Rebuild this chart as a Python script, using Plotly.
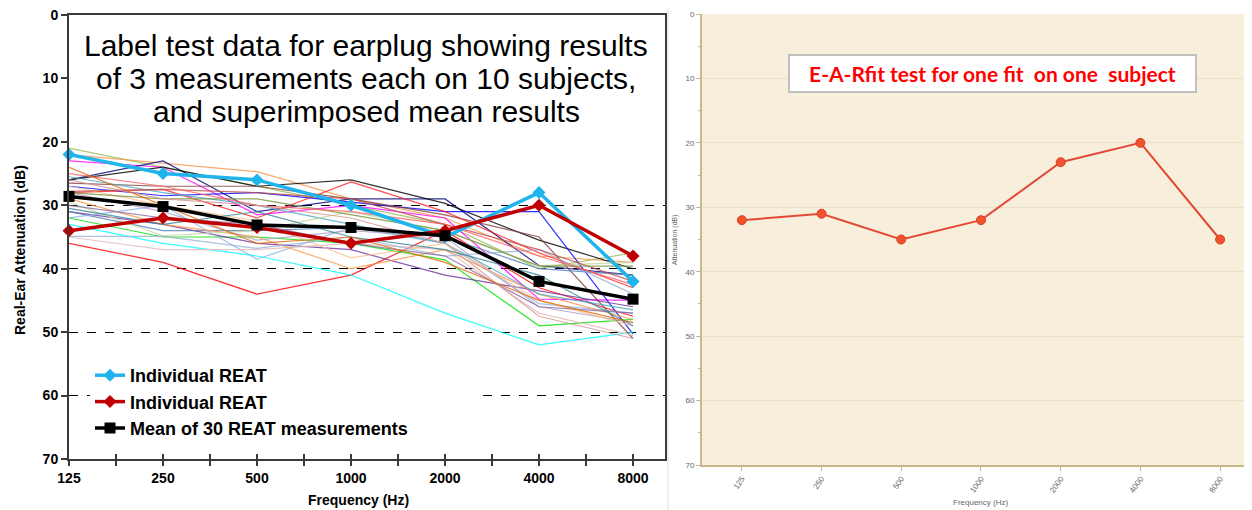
import plotly.graph_objects as go

# ---------------- data ----------------
freqs = ['125', '250', '500', '1000', '2000', '4000', '8000']
y_ticks = [0, 10, 20, 30, 40, 50, 60, 70]
dashed_levels = [30, 40, 50, 60]

# 28 individual thin REAT traces (dB attenuation at each frequency)
indiv_1 = [21, 24, 27, 30, 33, 40, 37.5]
indiv_2 = [22, 23.3, 24.7, 29, 32, 38, 39]
indiv_3 = [23, 24, 31.5, 30, 32, 44.8, 45]
indiv_4 = [26, 23, 31, 29, 29, 39.5, 41]
indiv_5 = [26, 24, 27, 26, 29.7, 35.5, 40]
indiv_6 = [27, 28.5, 28, 29.5, 31, 31, 50.3]
indiv_7 = [36, 39, 44, 41, 34, 43, 47.5]
indiv_8 = [33, 36, 38, 41, 47, 52, 50]
indiv_9 = [32, 35, 35, 36, 38.6, 49, 48]
indiv_10 = [26.5, 27, 27, 29, 31.5, 35, 51]
indiv_11 = [28, 27.5, 32, 26.3, 31, 37.5, 43]
indiv_12 = [31, 33, 36, 37, 41, 43.5, 46]
indiv_13 = [31, 34, 34, 33.5, 35, 40, 41]
indiv_14 = [32, 30, 38.5, 33.5, 36, 45.5, 47]
indiv_15 = [35, 37, 37, 36, 37, 47, 50.5]
indiv_16 = [29, 33, 35, 40, 37, 44, 48]
indiv_17 = [25.5, 28, 30, 33, 36, 44, 46.5]
indiv_18 = [29.5, 34.8, 34, 31, 34, 39.5, 39]
indiv_19 = [28, 31, 35.5, 34, 35, 46, 48.5]
indiv_20 = [27, 30, 32.5, 38.3, 36, 45, 49]
indiv_21 = [34.9, 34.9, 36.8, 35, 38, 37, 44]
indiv_22 = [27.8, 27.5, 28, 29, 33, 37, 42]
indiv_23 = [28, 29, 29, 31.5, 34, 39.6, 39.6]
indiv_24 = [30, 32, 33, 36, 38, 46, 47]
indiv_25 = [25, 27, 30, 31, 33, 38, 42.5]
indiv_26 = [26, 29, 30, 32, 36, 47.5, 51]
indiv_27 = [30.5, 33, 31, 35, 37, 41, 49]
indiv_28 = [24, 30, 36, 35, 39, 45, 48.5]

individual = [indiv_1, indiv_2, indiv_3, indiv_4, indiv_5, indiv_6, indiv_7,
              indiv_8, indiv_9, indiv_10, indiv_11, indiv_12, indiv_13, indiv_14,
              indiv_15, indiv_16, indiv_17, indiv_18, indiv_19, indiv_20, indiv_21,
              indiv_22, indiv_23, indiv_24, indiv_25, indiv_26, indiv_27, indiv_28]
indiv_colors = ['#9BBB59', '#F79646', '#FF00FF', '#000080', '#000000', '#0000FF',
                '#FF0000', '#00FFFF', '#00E000', '#7F3F3F', '#FF2020', '#7030A0',
                '#4F81BD', '#8EB4E3', '#E6B9B8', '#F79646', '#4BACC6', '#C3D69B',
                '#B3A2C7', '#FAC090', '#95B3D7', '#C0504D', '#76923C', '#8064A2',
                '#FF6060', '#D99694', '#31859C', '#E46C0A']

reat_cyan = [22, 25, 26, 30, 35, 28, 42]
reat_red = [34, 32, 33.5, 36, 34, 30, 38]
mean_reat = [28.6, 30.2, 33.1, 33.5, 34.8, 42, 44.8]

fit_values = [32, 31, 35, 32, 23, 20, 35]

title_lines = ['Label test data for earplug showing results',
               'of 3 measurements each on 10 subjects,',
               'and superimposed mean results']

# ---------------- figure ----------------
# page has an 8px body margin: size the figure to fit, and map page pixels to paper
OFF = 8
W, H = 1252 - OFF, 510 - OFF


def px(x):
    return (x - OFF) / W


def py(y):
    return 1 - (y - OFF) / H


xi = list(range(len(freqs)))
FONT = 'Liberation Sans, Arial, sans-serif'

fig = go.Figure()

for vals, col in zip(individual, indiv_colors):
    fig.add_trace(go.Scatter(x=xi, y=vals, mode='lines', line=dict(color=col, width=1.2),
                             opacity=0.8, showlegend=False, hoverinfo='skip',
                             xaxis='x', yaxis='y'))

fig.add_trace(go.Scatter(x=xi, y=reat_cyan, mode='lines+markers', name='Individual REAT',
                         line=dict(color='#1FB4EC', width=3.5),
                         marker=dict(symbol='diamond', size=10, color='#1FB4EC'),
                         cliponaxis=False, xaxis='x3', yaxis='y3'))
fig.add_trace(go.Scatter(x=xi, y=reat_red, mode='lines+markers', name='Individual REAT',
                         line=dict(color='#C00000', width=3.5),
                         marker=dict(symbol='diamond', size=10, color='#C00000'),
                         cliponaxis=False, xaxis='x3', yaxis='y3'))
fig.add_trace(go.Scatter(x=xi, y=mean_reat, mode='lines+markers',
                         name='Mean of 30 REAT measurements' + '\u00a0' * 13,
                         line=dict(color='#000000', width=3.5),
                         marker=dict(symbol='square', size=11, color='#000000'),
                         cliponaxis=False, xaxis='x3', yaxis='y3'))

# right chart
fig.add_trace(go.Scatter(x=xi, y=fit_values, mode='lines+markers', showlegend=False,
                         line=dict(color='#E34A36', width=2),
                         marker=dict(size=9, color='#F0522E', line=dict(color='#D8401F', width=1)),
                         xaxis='x2', yaxis='y2'))

half_ticks = [i * 0.5 for i in range(2 * len(freqs) - 1)]
half_text = [freqs[int(v)] if v == int(v) else '' for v in half_ticks]

left_dom = [px(69), px(665)]
left_ydom = [py(459), py(15)]
right_dom = [px(702), 1.0]
right_ydom = [py(465), py(14)]

axis_col = '#3a3a3a'
fig.update_layout(
    width=W, height=H, margin=dict(l=0, r=0, t=0, b=0, autoexpand=False),
    paper_bgcolor='white', plot_bgcolor='rgba(0,0,0,0)',
    font=dict(family=FONT, color='black'),
    xaxis=dict(domain=left_dom, range=[0, 6.34], tickvals=half_ticks, ticktext=half_text,
               ticks='outside', ticklen=5, tickwidth=1.5, tickcolor=axis_col,
               showline=True, linecolor=axis_col, linewidth=2, mirror=True,
               showgrid=False, zeroline=False, anchor='y', automargin=False,
               tickfont=dict(size=14, weight='bold', family=FONT)),
    yaxis=dict(domain=left_ydom, range=[70, 0], tickvals=y_ticks,
               ticks='outside', ticklen=6, tickwidth=1.5, tickcolor=axis_col,
               showline=True, linecolor=axis_col, linewidth=2, mirror=True,
               showgrid=False, zeroline=False, anchor='x', automargin=False,
               ticklabeloverflow='allow',
               tickfont=dict(size=14, weight='bold', family=FONT)),
    xaxis3=dict(overlaying='x', anchor='y3', range=[0, 6.34], tickvals=half_ticks,
                showticklabels=False, ticks='inside', ticklen=5, tickwidth=1.5,
                tickcolor=axis_col, showgrid=False, zeroline=False, showline=False,
                automargin=False),
    yaxis3=dict(overlaying='y', anchor='x3', range=[70, 0], tickvals=dashed_levels,
                showticklabels=False, ticks='', showgrid=True, griddash='dash',
                gridcolor='black', gridwidth=1.2, zeroline=False, showline=False,
                automargin=False),
    xaxis2=dict(domain=right_dom, range=[-0.5, 6.4], tickvals=xi, ticktext=freqs,
                tickangle=-55, ticks='outside', ticklen=4, tickcolor='#c8b88a',
                showline=True, linecolor='#c8b88a', linewidth=2, showgrid=False,
                zeroline=False, anchor='y2', automargin=False,
                tickfont=dict(size=8, color='#666666', family=FONT)),
    yaxis2=dict(domain=right_ydom, range=[70, 0], tickvals=y_ticks,
                ticks='outside', ticklen=4, tickcolor='#c8b88a',
                minor=dict(dtick=5, ticks='outside', ticklen=2, tickcolor='#c8b88a'),
                showline=True, linecolor='#c8b88a', linewidth=2,
                showgrid=True, gridcolor='#ebdfc4', gridwidth=1, zeroline=False, anchor='x2',
                automargin=False, ticklabeloverflow='allow',
                tickfont=dict(size=8, color='#666666', family=FONT)),
    legend=dict(x=px(90), y=py(357), xanchor='left', yanchor='top',
                bgcolor='white', borderwidth=0, tracegroupgap=0, itemwidth=30,
                font=dict(size=18, weight='bold', family=FONT, color='black')),
)

# beige plotting background for the right chart
fig.add_shape(type='rect', xref='x2 domain', yref='y2 domain', x0=0, x1=1, y0=0, y1=1,
              fillcolor='#f7eedc', line=dict(width=0), layer='below')
# separator border line of the right screenshot
fig.add_shape(type='line', xref='paper', yref='paper', x0=px(668), x1=px(668), y0=0, y1=1,
              line=dict(color='#dddddd', width=1))

for k, line in enumerate(title_lines):
    fig.add_annotation(xref='paper', yref='paper', x=px(366), y=py(45 + 33 * k),
                       text=line, showarrow=False,
                       font=dict(size=30, family=FONT, color='black'),
                       xanchor='center', yanchor='middle')
fig.add_annotation(xref='paper', yref='paper', x=px(20), y=py(250),
                   text='Real-Ear Attenuation (dB)', textangle=-90, showarrow=False,
                   font=dict(size=14, weight='bold', family=FONT, color='black'),
                   xanchor='center', yanchor='middle')
fig.add_annotation(xref='paper', yref='paper', x=px(358), y=py(500),
                   text='Frequency (Hz)', showarrow=False,
                   font=dict(size=14, weight='bold', family=FONT, color='black'),
                   xanchor='center', yanchor='middle')

fig.add_annotation(xref='paper', yref='paper', x=px(992), y=py(73.5),
                   text='E-A-Rfit test for one fit\u00a0 on one\u00a0 subject',
                   showarrow=False, width=403, height=33,
                   bgcolor='white', bordercolor='#c0c0c0', borderwidth=2,
                   font=dict(size=21, weight='bold', family='Lato, Open Sans, sans-serif', color='#FF0000'),
                   xanchor='center', yanchor='middle')
fig.add_annotation(xref='paper', yref='paper', x=px(675), y=py(240),
                   text='Attenuation (dB)', textangle=-90, showarrow=False,
                   font=dict(size=7, family=FONT, color='#666666'),
                   xanchor='center', yanchor='middle')
fig.add_annotation(xref='paper', yref='paper', x=px(980), y=py(502),
                   text='Frequency (Hz)', showarrow=False,
                   font=dict(size=8, family=FONT, color='#666666'),
                   xanchor='center', yanchor='middle')

fig.write_html('out.html')
